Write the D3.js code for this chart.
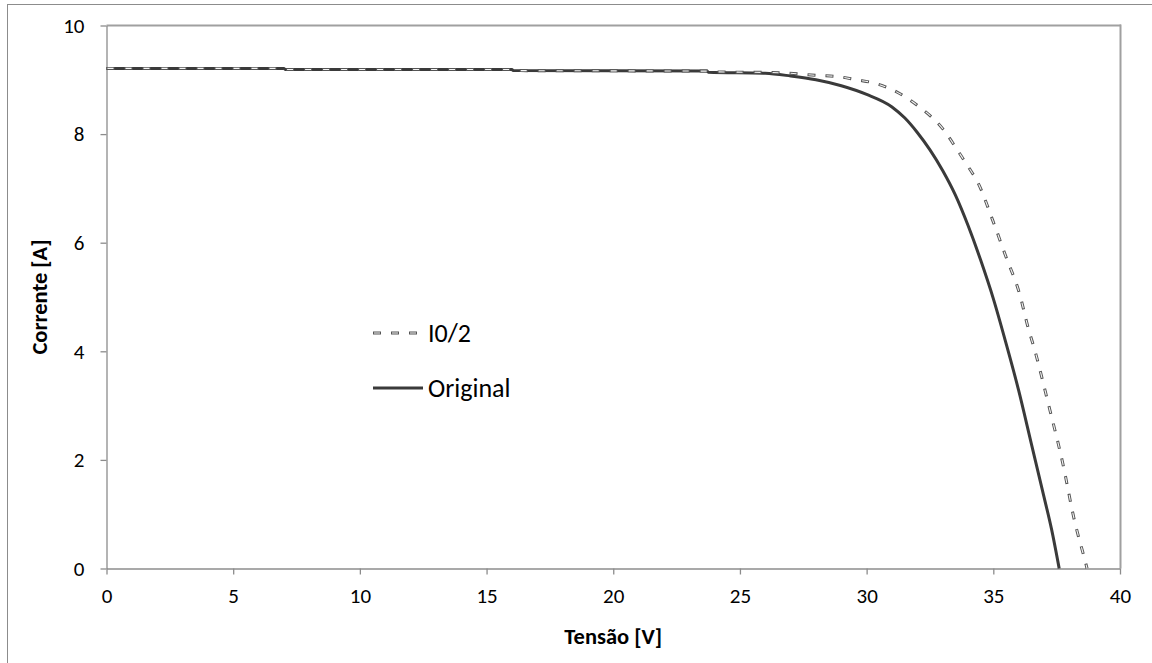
<!DOCTYPE html>
<html><head><meta charset="utf-8">
<script src="https://cdn.jsdelivr.net/npm/d3@7"></script>
<style>body{margin:0;background:#fff}svg{display:block}text{font-family:Carlito,Lato,"Liberation Sans",sans-serif;fill:#000}</style>
</head><body><svg id="c" width="1152" height="663"></svg>
<script>
const xTicks = [0,5,10,15,20,25,30,35,40];
const yTicks = [0,2,4,6,8,10];
const xTitle = "Tensão [V]";
const yTitle = "Corrente [A]";
const seriesNames = ["I0/2","Original"];

const vOriginal = [0,7,7.05,16,16.05,23.7,23.75,26,27,28,29,30,31,31.5,32,32.5,33,33.5,34,34.5,35,35.5,36,36.5,37,37.3,37.6];
const iOriginal = [9.21,9.21,9.19,9.19,9.17,9.16,9.14,9.12,9.07,9.0,8.89,8.73,8.5,8.3,8.03,7.71,7.33,6.88,6.32,5.68,4.97,4.15,3.28,2.30,1.32,0.72,0];

const vHalf = [0,7,7.05,16,16.05,23.7,23.75,26.6,28.1,28.85,29.6,30.3,31.0,32,33,33.66,34.05,34.4,34.97,35.5,36.03,36.4,36.6,37.2,37.74,38.2,38.6,38.7];
const iHalf = [9.21,9.21,9.19,9.19,9.17,9.16,9.15,9.13,9.08,9.06,9.0,8.94,8.82,8.53,8.10,7.65,7.37,7.10,6.42,5.74,5.07,4.39,4.08,2.98,1.94,0.89,0.18,0];

const svg = d3.select("#c");
const L=106.5, R=1120, T=25.5, B=568.5;
const x = d3.scaleLinear().domain([0,40]).range([L,R]);
const y = d3.scaleLinear().domain([0,10]).range([B,T]);

svg.append("rect").attr("x",7.5).attr("y",4.5).attr("width",1300).attr("height",800)
  .attr("fill","none").attr("stroke","#8c8c8c").attr("stroke-width",1);

svg.append("line").attr("x1",L).attr("x2",R+1).attr("y1",T).attr("y2",T).attr("stroke","#a0a0a0").attr("stroke-width",2);
svg.append("line").attr("x1",R+0.5).attr("x2",R+0.5).attr("y1",T-1).attr("y2",B).attr("stroke","#a0a0a0").attr("stroke-width",2);

const fs = 21;
const xAxis = svg.append("g").attr("transform",`translate(0,${B})`)
  .call(d3.axisBottom(x).tickValues(xTicks).tickFormat(d3.format("d")).tickSize(6).tickSizeOuter(0).tickPadding(14));
const yAxis = svg.append("g").attr("transform",`translate(${L},0)`)
  .call(d3.axisLeft(y).tickValues(yTicks).tickFormat(d3.format("d")).tickSize(6).tickSizeOuter(0).tickPadding(16));
[xAxis,yAxis].forEach(g=>{
  g.select(".domain").attr("stroke","#8c8c8c").attr("stroke-width",1.3);
  g.selectAll(".tick line").attr("stroke","#8c8c8c").attr("stroke-width",1.3);
  g.selectAll("text").style("font-size",fs+"px").attr("fill","#000");
});

const line = d3.line().curve(d3.curveMonotoneX).x(d=>x(d[0])).y(d=>y(d[1]));
const dOrig = vOriginal.map((v,i)=>[v,iOriginal[i]]);
const dHalf = vHalf.map((v,i)=>[v,iHalf[i]]);

svg.append("path").datum(dOrig).attr("d",line).attr("fill","none").attr("stroke","#3a3a3a").attr("stroke-width",3).attr("stroke-linejoin","round");
svg.append("path").datum(dHalf).attr("d",line).attr("fill","none").attr("stroke","#555").attr("stroke-width",3).attr("stroke-dasharray","8,10");
svg.append("path").datum(dHalf).attr("d",line).attr("fill","none").attr("stroke","#f4f4f4").attr("stroke-width",1.1).attr("stroke-dasharray","6,12").attr("stroke-dashoffset",-1);

const lg = svg.append("g");
const lx1=373, lx2=423;
const legY=[333,388];
lg.append("line").attr("x1",lx1).attr("x2",lx2).attr("y1",legY[0]).attr("y2",legY[0]).attr("stroke","#555").attr("stroke-width",3).attr("stroke-dasharray","8,10");
lg.append("line").attr("x1",lx1).attr("x2",lx2).attr("y1",legY[0]).attr("y2",legY[0]).attr("stroke","#f4f4f4").attr("stroke-width",1.1).attr("stroke-dasharray","6,12").attr("stroke-dashoffset",-1);
lg.append("line").attr("x1",lx1).attr("x2",lx2).attr("y1",legY[1]).attr("y2",legY[1]).attr("stroke","#3a3a3a").attr("stroke-width",3);
seriesNames.forEach((n,i)=>{
  lg.append("text").attr("x",lx2+5).attr("y",legY[i]).attr("dy","0.35em").style("font-size","26px").text(n);
});

svg.append("text").attr("x",(L+R)/2).attr("y",644).attr("text-anchor","middle").style("font-size","22.5px").style("font-weight","bold").text(xTitle);
svg.append("text").attr("transform",`translate(47,${(T+B)/2}) rotate(-90)`).attr("text-anchor","middle").style("font-size","22.5px").style("font-weight","bold").text(yTitle);
</script></body></html>
